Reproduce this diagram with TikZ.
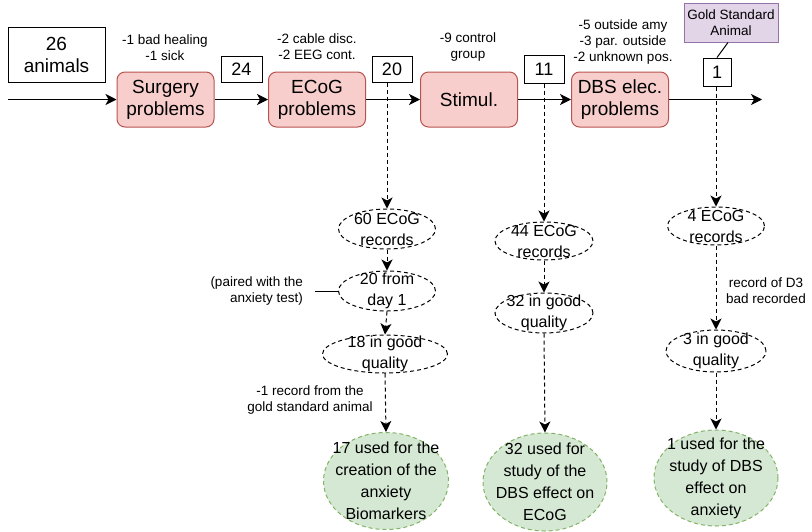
\documentclass[tikz,border=0pt]{standalone}
\usepackage{fontspec}
\setmainfont{Liberation Sans}
\usetikzlibrary{arrows.meta,shapes.geometric}
\definecolor{stagefill}{HTML}{F8CECC}
\definecolor{stageline}{HTML}{B85450}
\definecolor{goldfill}{HTML}{E1D5E7}
\definecolor{goldline}{HTML}{9673A6}
\definecolor{usefill}{HTML}{D5E8D4}
\definecolor{useline}{HTML}{82B366}
\begin{document}
\begin{tikzpicture}[x=1pt,y=-1pt,
  flow/.style={line width=1pt,-{Stealth[length=11pt,width=11pt,inset=3pt]}},
  dflow/.style={flow,dash pattern=on 4pt off 3pt},
  stage/.style={draw=stageline,fill=stagefill,rounded corners=8pt,line width=1pt,
    minimum width=97pt,minimum height=55pt,inner sep=0pt,align=center,
    font=\fontsize{19}{22}\selectfont},
  countbox/.style={draw,line width=1pt,inner sep=0pt,font=\fontsize{18}{20}\selectfont},
  record/.style={ellipse,draw,line width=1pt,dash pattern=on 4pt off 3pt,inner sep=0pt},
  rtext/.style={align=center,inner sep=0pt,font=\fontsize{16}{21}\selectfont},
  outcome/.style={ellipse,draw=useline,fill=usefill,line width=1pt,
    dash pattern=on 4pt off 3pt,inner sep=0pt},
  utext/.style={align=center,inner sep=0pt,font=\fontsize{16}{22}\selectfont},
  note/.style={align=center,inner sep=0pt,font=\fontsize{13.5}{16}\selectfont}]
\useasboundingbox (0,0) rectangle (812,531);

% main pipeline
\node[draw,line width=1pt,minimum width=97pt,minimum height=55pt,inner sep=0pt,
  align=center,font=\fontsize{19}{22}\selectfont] (animals) at (56.5,54.5) {26\\animals};
\coordinate (start) at (8,99.5);
\coordinate (finish) at (762,99.5);
\node[stage] (surg) at (165.5,99.5) {Surgery\\problems};
\node[stage] (ecog) at (317,99.5) {ECoG\\problems};
\node[stage] (stim) at (469,99.5) {Stimul.};
\node[stage] (dbs) at (620,99.5) {DBS elec.\\problems};

\draw[flow] (start) -- (surg.west);
\draw[flow] (surg.east) -- (ecog.west);
\draw[flow] (ecog.east) -- (stim.west);
\draw[flow] (stim.east) -- (dbs.west);
\draw[flow] (dbs.east) -- (finish);

% exclusion notes
\node[note] (n1) at (165,48) {-1 bad healing\\-1 sick};
\node[note] (n2) at (317,47) {-2 cable disc.\\-2 EEG cont.};
\node[note] (n3) at (468,47) {-9 control\\group};
\node[note] (n4) at (623,42) {-5 outside amy\\-3 par. outside\\-2 unknown pos.};

% remaining animals
\node[countbox,minimum width=41pt,minimum height=26pt] (c24) at (241.5,69) {24};
\node[countbox,minimum width=40pt,minimum height=26pt] (c20) at (392,69) {20};
\node[countbox,minimum width=40pt,minimum height=28pt] (c11) at (544,69) {11};
\node[countbox,minimum width=28pt,minimum height=28pt] (c1) at (717,72) {1};
\node[draw=goldline,fill=goldfill,line width=1pt,minimum width=94pt,minimum height=39pt,
  inner sep=0pt,align=center,font=\fontsize{13.5}{16}\selectfont] (gold) at (731,22.5)
  {Gold Standard\\Animal};
\draw[line width=1pt] ([xshift=-3pt]gold.south) -- (c1.north);

% recordings, first column
\node[record,minimum width=97pt,minimum height=40pt,
  label={[rtext]center:{60 ECoG\\records}}] (e60) at (387,229) {};
\node[record,minimum width=97pt,minimum height=40pt,
  label={[rtext]center:{20 from\\day 1}}] (e20) at (387,291) {};
\node[record,minimum width=125pt,minimum height=38pt,
  label={[rtext]center:{18 in good\\quality}}] (e18) at (385,354) {};
\node[outcome,minimum width=125pt,minimum height=97pt,
  label={[utext]center:{17 used for the\\creation of the\\anxiety\\Biomarkers}}] (g17) at (386,481) {};

\draw[dflow] (e60.north |- c20.south) -- (e60.north);
\draw[dflow] (e60.south) -- (e20.north);
\draw[dflow] (e20.south) -- (e18.north);
\draw[dflow] (e18.south) -- (g17.north);

\node[note,align=right,anchor=east,inner xsep=12pt] (paired) at (315,291)
  {(paired with the\\anxiety test)};
\draw[line width=1pt] (paired.east) -- (e20.west);
\node[note] (goldnote) at (310,400) {-1 record from the\\gold standard animal};

% recordings, second column
\node[record,minimum width=98pt,minimum height=38pt,
  label={[rtext]center:{44 ECoG\\records}}] (e44) at (544,241) {};
\node[record,minimum width=98pt,minimum height=40pt,
  label={[rtext]center:{32 in good\\quality}}] (e32) at (544,313) {};
\node[outcome,minimum width=124pt,minimum height=98pt,
  label={[utext]center:{32 used for\\study of the\\DBS effect on\\ECoG}}] (g32) at (545,482) {};

\draw[dflow] (e44.north |- c11.south) -- (e44.north);
\draw[dflow] (e44.south) -- (e32.north);
\draw[dflow] (e32.south) -- (g32.north);

% recordings, third column
\node[record,minimum width=97pt,minimum height=38pt,
  label={[rtext]center:{4 ECoG\\records}}] (e4) at (716,226) {};
\node[record,minimum width=100pt,minimum height=42pt,
  label={[rtext]center:{3 in good\\quality}}] (e3) at (716,351) {};
\node[outcome,minimum width=124pt,minimum height=96pt,
  label={[utext]center:{1 used for the\\study of DBS\\effect on\\anxiety}}] (g1) at (716,478) {};

\draw[dflow] (e4.north |- c1.south) -- (e4.north);
\draw[dflow] (e4.south) -- (e3.north);
\draw[dflow] (e3.south) -- (g1.north);

\node[note] (d3note) at (766,291) {record of D3\\bad recorded};
\end{tikzpicture}
\end{document}
